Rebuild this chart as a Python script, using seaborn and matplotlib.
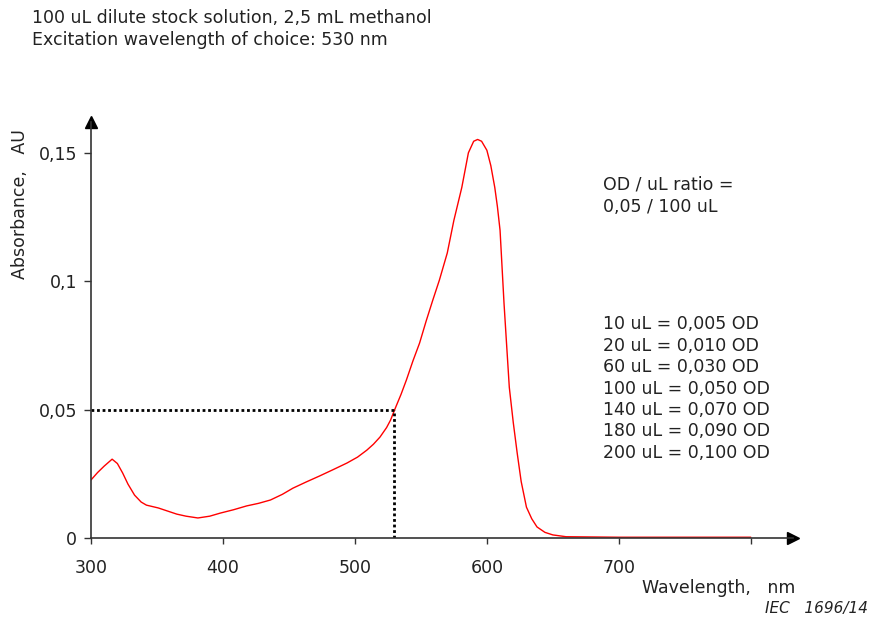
import matplotlib
matplotlib.use("Agg")
import matplotlib.pyplot as plt
import seaborn as sns
import pandas as pd

# absorbance spectrum
wavelength = [300, 305, 310, 316, 320, 324, 328, 333, 338, 342, 351, 358, 365, 372, 381,
              390, 398, 408, 418, 427, 436, 445, 453, 463, 473, 483, 494, 502, 509, 514,
              519, 524, 527, 530, 535, 539, 544, 549, 554, 559, 564, 570, 575, 581, 586,
              590, 593, 596, 600, 603, 606, 608, 610, 613, 615, 617, 620, 623, 626, 630,
              634, 638, 644, 650, 660, 680, 700, 720, 740, 760, 780, 800]
absorbance = [0.0226, 0.0255, 0.0280, 0.0307, 0.0290, 0.0253, 0.0210, 0.0167, 0.0140, 0.0128,
              0.0117, 0.0105, 0.0093, 0.0085, 0.0078, 0.0085, 0.0097, 0.0110, 0.0125, 0.0135,
              0.0148, 0.0170, 0.0194, 0.0218, 0.0241, 0.0265, 0.0292, 0.0315, 0.0342, 0.0365,
              0.0393, 0.0430, 0.0459, 0.0498, 0.0560, 0.0615, 0.0690, 0.0759, 0.0845, 0.0926,
              0.1004, 0.1110, 0.1237, 0.1365, 0.1500, 0.1545, 0.1552, 0.1545, 0.1510, 0.1450,
              0.1365, 0.1290, 0.1198, 0.0914, 0.0750, 0.0587, 0.0450, 0.0330, 0.0220, 0.0120,
              0.0075, 0.0043, 0.0022, 0.0012, 0.0005, 0.0004, 0.0003, 0.0003, 0.0003, 0.0003,
              0.0003, 0.0003]

x_ticks = [300, 400, 500, 600, 700, 800]
x_ticklabels = ["300", "400", "500", "600", "700", ""]
y_ticks = [0, 0.05, 0.1, 0.15]
y_ticklabels = ["0", "0,05", "0,1", "0,15"]

excitation = 530
excitation_abs = 0.05

header = ["100 uL dilute stock solution, 2,5 mL methanol",
          "Excitation wavelength of choice: 530 nm"]
ratio_text = ["OD / uL ratio =", "0,05 / 100 uL"]
volume_text = ["10 uL = 0,005 OD", "20 uL = 0,010 OD", "60 uL = 0,030 OD",
               "100 uL = 0,050 OD", "140 uL = 0,070 OD", "180 uL = 0,090 OD",
               "200 uL = 0,100 OD"]

sns.set_style("white")
plt.rcParams["font.family"] = ["DejaVu Sans"]
txt = "#222222"
axcol = "#333333"
fs = 12.5

df = pd.DataFrame({"wavelength": wavelength, "absorbance": absorbance})

fig = plt.figure(figsize=(8.72, 6.18), dpi=100)
ax = fig.add_axes([91 / 872, 1 - 538 / 618, (793 - 91) / 872, (538 - 122) / 618])

sns.lineplot(data=df, x="wavelength", y="absorbance", ax=ax, color="red", linewidth=1.0)

# dotted guide lines at the excitation wavelength
ax.plot([300, excitation], [excitation_abs, excitation_abs], color="black",
        linestyle=(0, (1, 1)), linewidth=2)
ax.plot([excitation, excitation], [0, excitation_abs], color="black",
        linestyle=(0, (1, 1)), linewidth=2)

ax.set_xlim(300, 832)
ax.set_ylim(0, 0.162)
ax.set_xticks(x_ticks)
ax.set_xticklabels(x_ticklabels)
ax.set_yticks(y_ticks)
ax.set_yticklabels(y_ticklabels)
ax.set_xlabel("")
ax.set_ylabel("")
ax.tick_params(axis="x", direction="out", length=4, width=1, color=axcol,
               labelsize=fs, labelcolor=txt, pad=11, bottom=True)
ax.tick_params(axis="y", direction="out", length=5, width=1, color=axcol,
               labelsize=fs, labelcolor=txt, pad=5, left=True)
for side in ["top", "right"]:
    ax.spines[side].set_visible(False)
for side in ["left", "bottom"]:
    ax.spines[side].set_color(axcol)
    ax.spines[side].set_linewidth(1.2)

# arrow heads on the axes
ax.plot(1, 0, ">", color="black", markersize=9, transform=ax.transAxes, clip_on=False)
ax.plot(0, 1, "^", color="black", markersize=9, transform=ax.transAxes, clip_on=False)

fig.text(32 / 872, 1 - 18 / 618, header[0], fontsize=fs, color=txt, va="center", ha="left")
fig.text(32 / 872, 1 - 40 / 618, header[1], fontsize=fs, color=txt, va="center", ha="left")

fig.text(20 / 872, 1 - 204 / 618, "Absorbance,   AU", fontsize=fs, color=txt,
         rotation=90, ha="center", va="center")
fig.text(795 / 872, 1 - 588 / 618, "Wavelength,   nm", fontsize=fs, color=txt,
         ha="right", va="center")
fig.text(868 / 872, 1 - 609 / 618, "IEC   1696/14", fontsize=11, color=txt,
         ha="right", va="center", style="italic")

for i, line in enumerate(ratio_text):
    fig.text(603 / 872, 1 - (185 + 22 * i) / 618, line, fontsize=fs, color=txt,
             ha="left", va="center")
for i, line in enumerate(volume_text):
    fig.text(603 / 872, 1 - (324 + 21.5 * i) / 618, line, fontsize=fs, color=txt,
             ha="left", va="center")

fig.savefig("out.png", dpi=100)
